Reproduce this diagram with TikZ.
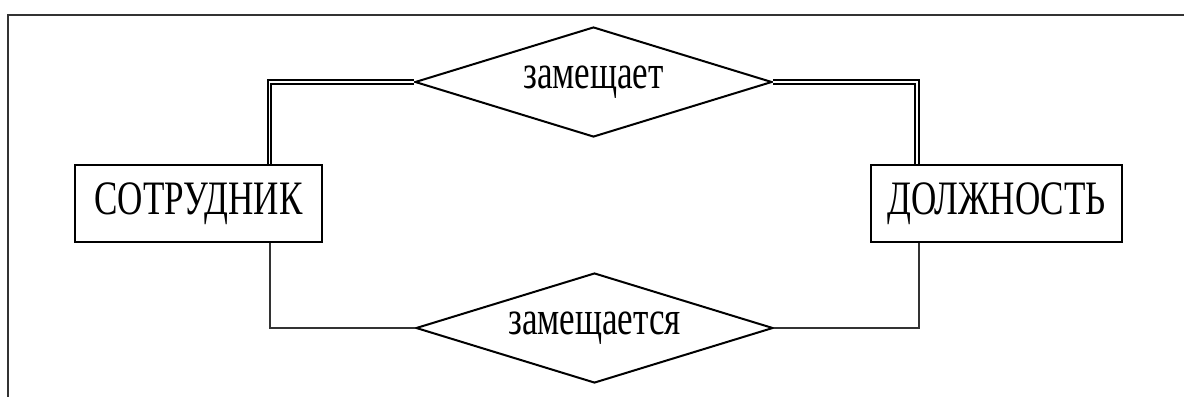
\documentclass[tikz,border=0pt]{standalone}
\usepackage{fontspec}
\setmainfont{Liberation Serif}[FakeStretch=0.73]
\usetikzlibrary{shapes.geometric}
\usetikzlibrary{positioning}

\tikzset{
  entity/.style={draw, line width=2.2pt, minimum width=247pt, minimum height=77pt, inner sep=0pt},
  relation/.style={draw, diamond, line width=2pt, aspect=3.25, minimum width=357pt, minimum height=110pt, inner sep=0pt},
  dblline/.style={double, line width=1.8pt, double distance=1.5pt, line join=miter},
  oneline/.style={line width=2pt, draw=black!80},
}

\begin{document}
\begin{tikzpicture}[x=1pt, y=-1pt, font=\fontsize{48}{52}\selectfont]

    \useasboundingbox (0,0) rectangle (1184,397);

    % frame of the scan
    \draw[line width=2.2pt, draw=black!80] (1184,15) -- (8,15) -- (8,397);

    \node[entity] (Sotrudnik) at (198.5,203.5) {СОТРУДНИК};
    \node[entity, minimum width=251pt] (Dolzhnost) at (996.5,203.5) {ДОЛЖНОСТЬ};

    \node[relation] (Zameshchaet) at (593.5,82) {замещает};
    \node[relation] (Zameshchaetsya) at (594.5,328) {замещается};

    \draw[dblline] ([xshift=71pt]Sotrudnik.north) |- (Zameshchaet.west);
    \draw[dblline] ([xshift=-79.5pt]Dolzhnost.north) |- (Zameshchaet.east);
    \draw[oneline] ([xshift=71pt]Sotrudnik.south) |- (Zameshchaetsya.west);
    \draw[oneline] ([xshift=-78pt]Dolzhnost.south) |- (Zameshchaetsya.east);

\end{tikzpicture}
\end{document}
